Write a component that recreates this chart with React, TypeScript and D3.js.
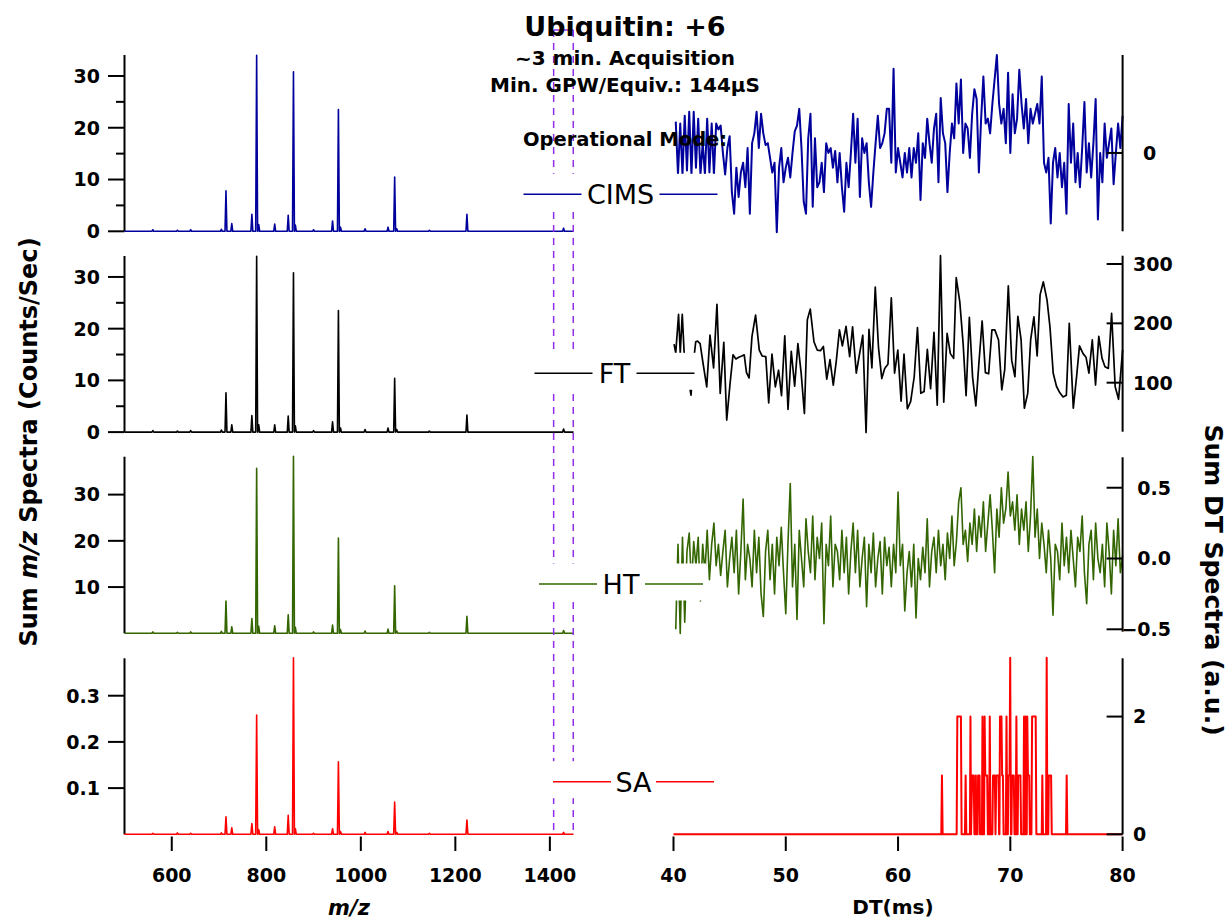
import React from "react";
import * as d3 from "d3";

// ---------- m/z spectra (peak list, intensities per mode) ----------
const peakMz = [560, 612, 640, 705, 714.7, 727.0, 769.5, 779.6, 784, 817.8, 846.4, 857.5, 861.5, 900, 940.2, 952.6, 957, 1009, 1057.6, 1071.6, 1076, 1145, 1224.5, 1429];
const cimsMs = [0.3, 0.2, 0.3, 0.4, 7.8, 1.5, 3.3, 34.0, 1.3, 1.4, 3.1, 30.8, 1.2, 0.3, 2.0, 23.5, 0.8, 0.5, 0.8, 10.5, 0.5, 0.2, 3.3, 0.6];
const ftMs = [0.3, 0.2, 0.3, 0.4, 7.6, 1.4, 3.2, 34.0, 1.4, 1.4, 3.1, 30.8, 1.2, 0.3, 2.0, 23.5, 0.8, 0.5, 0.8, 10.4, 0.5, 0.2, 3.3, 0.6];
const htMs = [0.3, 0.2, 0.3, 0.4, 7.0, 1.4, 3.2, 35.7, 1.5, 1.6, 4.0, 38.3, 1.3, 0.3, 1.8, 20.6, 0.8, 0.5, 0.9, 10.3, 0.5, 0.2, 3.7, 0.6];
const saMs = [0.002, 0.003, 0.002, 0.003, 0.038, 0.014, 0.023, 0.258, 0.01, 0.016, 0.041, 0.382, 0.012, 0.002, 0.012, 0.157, 0.006, 0.004, 0.006, 0.07, 0.004, 0.002, 0.031, 0.004];
const mzTicks = [600, 800, 1000, 1200, 1400];
const windowMz = [1408, 1449.5];

// ---------- DT spectra ----------
const dtStart = 40.2;
const dtStep = 0.2;
const cimsDt = [
  0.32, -0.22, 0.30, -0.22, 0.38,
  -0.18, 0.42, -0.22, 0.42, -0.15,
  0.35, -0.22, 0.10, -0.22, 0.35,
  -0.20, 0.30, -0.22, 0.30, 0.24,
  0.28, 0.00, -0.22, 0.05, 0.17,
  -0.40, -0.62, -0.15, -0.45, -0.20,
  -0.10, -0.35, 0.05, -0.62, 0.10,
  0.20, 0.42, 0.05, 0.40, 0.20,
  0.08, 0.10, -0.05, -0.20, -0.10,
  -0.81, -0.15, 0.05, -0.30, -0.15,
  -0.05, -0.25, 0.00, 0.22, 0.28,
  0.45, 0.05, -0.50, -0.62, 0.15,
  0.40, -0.55, 0.15, -0.35, -0.30,
  -0.10, -0.40, 0.10, 0.00, 0.05,
  -0.15, 0.02, -0.30, 0.00, -0.35,
  -0.60, -0.10, -0.35, 0.00, 0.40,
  -0.10, 0.35, -0.45, 0.15, 0.00,
  0.10, -0.30, -0.55, -0.20, 0.10,
  0.38, 0.05, 0.10, 0.20, 0.45,
  0.45, -0.10, 0.86, -0.20, 0.05,
  -0.10, -0.25, 0.00, -0.20, 0.05,
  -0.25, 0.05, -0.10, 0.20, -0.48,
  0.10, -0.05, 0.35, 0.10, -0.10,
  0.25, 0.40, -0.30, 0.56, 0.20,
  0.10, -0.40, 0.00, 0.30, 0.15,
  0.71, 0.30, 0.75, 0.00, 0.30,
  0.25, -0.05, 0.40, 0.65, 0.55,
  -0.20, 0.35, 0.78, 0.30, 0.35,
  0.20, 0.50, 0.75, 1.00, 0.50,
  0.30, 0.45, 0.10, 0.82, 0.00,
  0.60, 0.20, 0.35, 0.85, 0.50,
  0.25, 0.55, 0.10, 0.45, 0.30,
  0.40, 0.50, 0.30, 0.78, -0.10,
  -0.20, -0.05, -0.72, -0.10, 0.05,
  -0.25, 0.00, -0.35, -0.10, -0.62,
  0.50, -0.10, 0.30, -0.30, 0.00,
  -0.35, 0.05, 0.52, -0.20, 0.10,
  -0.25, 0.10, 0.55, -0.68, 0.00,
  -0.30, 0.30, -0.05, 0.10, 0.25,
  -0.32, 0.00, 0.30, 0.05, 0.38,
];
const htDt = [
  -0.50, 0.10, -0.53, 0.15, -0.45,
  0.05, 0.18, -0.20, 0.12, -0.05,
  0.15, -0.30, 0.10, -0.10, 0.20,
  -0.15, 0.10, 0.25, -0.05, 0.10,
  -0.12, 0.05, 0.20, -0.20, 0.00,
  0.15, -0.10, 0.20, -0.25, 0.05,
  0.42, -0.15, 0.10, 0.00, -0.20,
  0.20, -0.10, 0.15, -0.25, -0.41,
  0.05, 0.20, -0.15, 0.10, -0.25,
  0.15, -0.05, 0.22, -0.10, -0.39,
  0.12, 0.53, -0.20, 0.10, -0.43,
  0.20, 0.00, -0.20, 0.28, 0.05,
  -0.10, 0.30, -0.15, 0.15, 0.00,
  0.25, -0.46, 0.10, -0.05, 0.30,
  -0.20, 0.10, 0.05, -0.15, 0.20,
  -0.10, 0.15, -0.25, 0.05, 0.25,
  -0.10, 0.20, -0.20, 0.00, 0.15,
  -0.34, 0.10, -0.10, 0.18, -0.20,
  0.00, 0.12, -0.25, 0.15, -0.05,
  0.08, -0.20, 0.10, -0.10, 0.47,
  -0.05, 0.10, -0.37, -0.10, 0.05,
  -0.20, 0.10, -0.42, 0.00, -0.15,
  0.08, -0.10, 0.28, -0.20, 0.05,
  0.15, -0.10, 0.20, -0.05, 0.10,
  -0.15, 0.18, 0.00, 0.30, -0.05,
  0.12, 0.40, 0.50, 0.10, 0.20,
  -0.02, 0.25, 0.10, 0.35, 0.05,
  0.30, 0.15, 0.40, 0.05, 0.25,
  0.45, 0.20, -0.10, 0.35, 0.15,
  0.50, 0.25, 0.35, 0.61, 0.30,
  0.40, 0.20, 0.45, 0.10, 0.35,
  0.20, 0.40, 0.05, 0.30, 0.72,
  0.15, 0.35, 0.00, 0.25, 0.10,
  -0.10, 0.20, 0.00, -0.40, 0.10,
  0.05, -0.15, 0.25, -0.05, 0.15,
  -0.10, 0.20, 0.00, -0.20, 0.15,
  0.05, 0.30, -0.10, -0.32, 0.10,
  0.20, -0.15, 0.25, 0.00, -0.10,
  0.10, -0.20, 0.25, 0.05, -0.25,
  0.20, -0.05, 0.28, -0.10, 0.02,
];
const ftDtTime = [40.05, 40.2, 40.45, 40.6, 40.78, 40.95, 41.2, 41.56, 41.75, 41.98, 42.14, 42.37, 42.63, 42.96, 43.25, 43.57, 43.87, 44.16, 44.48, 44.74, 45.04, 45.3, 45.56, 45.82, 46.08, 46.3, 46.5, 46.73, 46.99, 47.31, 47.64, 47.89, 48.22, 48.48, 48.77, 49.07, 49.36, 49.62, 49.91, 50.2, 50.49, 50.79, 51.08, 51.37, 51.66, 51.92, 52.18, 52.51, 52.8, 53.09, 53.35, 53.65, 53.94, 54.23, 54.49, 54.78, 55.04, 55.37, 55.69, 55.95, 56.28, 56.54, 56.86, 57.15, 57.41, 57.67, 57.97, 58.26, 58.55, 58.81, 59.1, 59.4, 59.69, 59.98, 60.27, 60.53, 60.83, 61.12, 61.44, 61.73, 62.03, 62.32, 62.61, 62.9, 63.2, 63.49, 63.78, 64.07, 64.37, 64.66, 64.95, 65.18, 65.5, 65.8, 66.06, 66.35, 66.64, 66.93, 67.19, 67.49, 67.78, 68.07, 68.36, 68.62, 68.95, 69.24, 69.5, 69.82, 70.12, 70.41, 70.67, 70.96, 71.25, 71.55, 71.81, 72.1, 72.39, 72.65, 72.94, 73.27, 73.53, 73.82, 74.11, 74.41, 74.7, 74.99, 75.25, 75.61, 75.9, 76.16, 76.48, 76.74, 77.0, 77.3, 77.59, 77.88, 78.17, 78.43, 78.73, 79.02, 79.34, 79.64, 80.0];
const ftDtVal = [165, 150, 215, 150, 215, 150, 120, 79, 130, 169, 170, 166, 133, 93, 180, 125, 232, 82, 168, 37, 99, 147, 140, 143, 145, 147, 117, 108, 178, 214, 155, 145, 144, 66, 148, 93, 121, 78, 179, 55, 153, 94, 166, 116, 48, 206, 224, 169, 155, 154, 161, 106, 139, 96, 135, 189, 162, 195, 144, 194, 116, 145, 180, 16, 190, 125, 261, 159, 107, 124, 131, 243, 116, 155, 69, 148, 56, 68, 110, 193, 82, 85, 156, 90, 185, 62, 314, 67, 183, 149, 141, 277, 236, 165, 78, 210, 109, 61, 130, 204, 117, 115, 189, 189, 172, 88, 122, 263, 138, 110, 212, 172, 57, 82, 172, 211, 145, 248, 270, 239, 194, 116, 94, 83, 76, 79, 200, 57, 110, 162, 149, 143, 116, 172, 96, 178, 141, 127, 124, 217, 93, 72, 155];
const saDtTime = [40, 63.85, 63.91, 63.97, 65.22, 65.28, 65.6, 65.66, 65.96, 66.02, 66.08, 66.4, 66.45, 66.5, 66.6, 66.74, 66.8, 66.88, 66.93, 66.98, 67.08, 67.13, 67.26, 67.3, 67.47, 67.52, 67.58, 67.66, 67.71, 67.77, 67.94, 68.0, 68.12, 68.17, 68.23, 68.4, 68.46, 68.62, 68.68, 68.75, 68.95, 69.0, 69.03, 69.08, 69.21, 69.27, 69.34, 69.4, 69.6, 69.66, 69.72, 69.78, 69.83, 69.93, 69.99, 70.05, 70.1, 70.15, 70.31, 70.37, 70.48, 70.54, 70.6, 70.65, 70.7, 70.9, 70.96, 71.16, 71.22, 71.29, 71.35, 71.41, 71.46, 71.51, 71.57, 71.68, 71.74, 71.88, 71.94, 72.26, 72.32, 72.8, 72.85, 72.91, 73.18, 73.24, 73.3, 73.38, 73.43, 73.63, 73.69, 74.96, 75.02, 75.08, 80];
const saDtVal = [0, 0, 1, 0, 0, 2, 2, 0, 0, 1, 0, 0, 2, 0, 1, 1, 0, 0, 1, 0, 0, 1, 1, 0, 0, 2, 0, 0, 2, 1, 1, 0, 0, 2, 0, 0, 1, 1, 0, 1, 1, 0, 0, 2, 2, 1, 1, 0, 0, 2, 0, 0, 1, 1, 3, 0, 0, 1, 1, 0, 0, 2, 0, 0, 1, 1, 0, 0, 2, 0, 2, 0, 0, 2, 1, 1, 0, 0, 2, 2, 0, 0, 1, 0, 0, 3, 0, 0, 1, 1, 0, 0, 1, 0, 0];
const dtTicks = [40, 50, 60, 70, 80];

const modeLabels = ["CIMS", "FT", "HT", "SA"];
const modeColors = ["#00009c", "#000000", "#336600", "#ff0000"];

const FONT = "DejaVu Sans";

export default function App() {
  const xMz = d3.scaleLinear().domain([500, 1450]).range([124.5, 573.5]);
  const xDt = d3.scaleLinear().domain([40, 80]).range([673.5, 1122.6]);

  const msPanels = [
    { data: cimsMs, y: d3.scaleLinear().domain([0, 34.05]).range([231.3, 55]), ticks: [0, 10, 20, 30], minor: [5, 15, 25], fmt: d3.format("d") },
    { data: ftMs, y: d3.scaleLinear().domain([0, 34.05]).range([432.1, 256]), ticks: [0, 10, 20, 30], minor: [5, 15, 25], fmt: d3.format("d") },
    { data: htMs, y: d3.scaleLinear().domain([0, 38.2]).range([633.3, 456.7]), ticks: [10, 20, 30], minor: [], fmt: d3.format("d") },
    { data: saMs, y: d3.scaleLinear().domain([0, 0.381]).range([834.3, 658.3]), ticks: [0.1, 0.2, 0.3], minor: [], fmt: d3.format(".1f") },
  ];

  const dtGrid = (vals: number[]) => vals.map((v, i) => [dtStart + i * dtStep, v] as [number, number]);
  const dtPanels = [
    { pts: dtGrid(cimsDt), y: d3.scaleLinear().domain([-0.8, 1.0]).range([231.3, 55]), ticks: [0], fmt: d3.format("d"), lx: 1143, anchor: "start", sw: 2 },
    { pts: ftDtTime.map((t, i) => [t, ftDtVal[i]] as [number, number]), y: d3.scaleLinear().domain([17.4, 314]).range([431.7, 255.7]), ticks: [100, 200, 300], fmt: d3.format("d"), lx: 1133, anchor: "start", sw: 1.7 },
    { pts: dtGrid(htDt), y: d3.scaleLinear().domain([-0.517, 0.715]).range([631.7, 457.3]), ticks: [-0.5, 0, 0.5], fmt: d3.format(".1f"), lx: 1171, anchor: "end", sw: 1.6 },
    { pts: saDtTime.map((t, i) => [t, saDtVal[i]] as [number, number]), y: d3.scaleLinear().domain([0, 2.99]).range([834.3, 658.3]), ticks: [0, 2], fmt: d3.format("d"), lx: 1133, anchor: "start", sw: 2 },
  ];

  const legends = [
    { cx: 620.5, y: 194.3, tw: 68 },
    { cx: 614.5, y: 373.3, tw: 34 },
    { cx: 621, y: 584, tw: 38 },
    { cx: 633.5, y: 781.7, tw: 35 },
  ];

  const msPath = (ints: number[], y: d3.ScaleLinear<number, number>) => {
    const pts: [number, number][] = [[500, 0]];
    peakMz.forEach((mz, i) => {
      pts.push([mz - 2, 0], [mz, ints[i]], [mz + 2, 0]);
    });
    pts.push([1450, 0]);
    return d3.line<[number, number]>().x((d) => xMz(d[0])).y((d) => y(d[1]))(pts) || "";
  };

  const dtPath = (pts: [number, number][], y: d3.ScaleLinear<number, number>) =>
    d3.line<[number, number]>().x((d) => xDt(d[0])).y((d) => y(d[1]))(pts) || "";

  const tickFont = { fontFamily: FONT, fontWeight: "bold" as const, fontSize: 19 };
  const purple = "#8f2de8";
  const axisRightX = xDt(80);

  return (
    <svg width={1232} height={922} style={{ position: "absolute", left: 0, top: 0, background: "#fff" }}>
      <rect x={0} y={0} width={1232} height={922} fill="#fff" />

      {/* m/z spectra */}
      {msPanels.map((p, i) => {
        const [y0, y1] = p.y.range();
        return (
          <g key={"ms" + i}>
            <line x1={124.5} x2={124.5} y1={y1} y2={y0} stroke="#000" strokeWidth={2} />
            {p.ticks.map((t) => (
              <g key={t}>
                <line x1={108} x2={124.5} y1={p.y(t)} y2={p.y(t)} stroke="#000" strokeWidth={2} />
                <text x={100} y={p.y(t)} dy="0.36em" textAnchor="end" {...tickFont}>{p.fmt(t)}</text>
              </g>
            ))}
            {p.minor.map((t) => (
              <line key={"m" + t} x1={116} x2={124.5} y1={p.y(t)} y2={p.y(t)} stroke="#000" strokeWidth={2} />
            ))}
            <path d={msPath(p.data, p.y)} fill="none" stroke={modeColors[i]} strokeWidth={1.6} strokeLinejoin="round" />
          </g>
        );
      })}

      {/* m/z x-axis */}
      {mzTicks.map((t) => (
        <g key={"mzt" + t}>
          <line x1={xMz(t)} x2={xMz(t)} y1={836.5} y2={851} stroke="#000" strokeWidth={2} />
          <text x={xMz(t)} y={882} textAnchor="middle" {...tickFont}>{t}</text>
        </g>
      ))}
      <text x={349} y={915} textAnchor="middle" fontFamily={FONT} fontWeight="bold" fontStyle="italic" fontSize={21}>m/z</text>

      {/* dashed m/z window */}
      <line x1={xMz(windowMz[0])} x2={xMz(windowMz[1])} y1={30} y2={30} stroke={purple} strokeWidth={1.5} />
      {windowMz.map((m) => (
        <line key={"w" + m} x1={xMz(m)} x2={xMz(m)} y1={30} y2={834} stroke={purple} strokeWidth={1.5} strokeDasharray="7,6" />
      ))}

      {/* DT spectra */}
      {dtPanels.map((p, i) => {
        const [y0, y1] = p.y.range();
        return (
          <g key={"dt" + i}>
            <path d={dtPath(p.pts, p.y)} fill="none" stroke={modeColors[i]} strokeWidth={p.sw} strokeLinejoin="round" />
            <line x1={axisRightX} x2={axisRightX} y1={y1} y2={y0} stroke="#000" strokeWidth={2} />
            {p.ticks.map((t) => (
              <g key={t}>
                <line x1={axisRightX - 16} x2={axisRightX} y1={p.y(t)} y2={p.y(t)} stroke="#000" strokeWidth={2} />
                <text x={p.lx} y={p.y(t)} dy="0.36em" textAnchor={p.anchor as any} {...tickFont}>{p.fmt(t)}</text>
              </g>
            ))}
          </g>
        );
      })}
      {dtTicks.map((t) => (
        <g key={"dtt" + t}>
          <line x1={xDt(t)} x2={xDt(t)} y1={836.5} y2={851} stroke="#000" strokeWidth={2} />
          <text x={xDt(t)} y={882} textAnchor="middle" {...tickFont}>{t}</text>
        </g>
      ))}
      <text x={893} y={914} textAnchor="middle" fontFamily={FONT} fontWeight="bold" fontSize={20}>DT(ms)</text>

      {/* legend */}
      {legends.map((l, i) => {
        const lEnd = l.cx - l.tw / 2 - 5;
        const rStart = l.cx + l.tw / 2 + 5;
        return (
          <g key={"lg" + i}>
            <rect x={lEnd - 60} y={l.y - 20.5} width={rStart + 61 - (lEnd - 60)} height={37} fill="#fff" />
            <line x1={lEnd - 58} x2={lEnd} y1={l.y} y2={l.y} stroke={modeColors[i]} strokeWidth={1.6} />
            <line x1={rStart} x2={rStart + 58} y1={l.y} y2={l.y} stroke={modeColors[i]} strokeWidth={1.6} />
            <text x={l.cx} y={l.y + 10} textAnchor="middle" fontFamily={FONT} fontSize={27} fill="#000">{modeLabels[i]}</text>
          </g>
        );
      })}

      {/* titles */}
      <text x={625} y={36} textAnchor="middle" fontFamily={FONT} fontWeight="bold" fontSize={27}>Ubiquitin: +6</text>
      <text x={625} y={65} textAnchor="middle" fontFamily={FONT} fontWeight="bold" fontSize={20}>~3 min. Acquisition</text>
      <text x={625} y={92} textAnchor="middle" fontFamily={FONT} fontWeight="bold" fontSize={20}>Min. GPW/Equiv.: 144{"\u00b5"}S</text>
      <text x={625} y={145.5} textAnchor="middle" fontFamily={FONT} fontWeight="bold" fontSize={19.5}>Operational Mode:</text>

      {/* axis titles */}
      <text transform="translate(37,442) rotate(-90)" textAnchor="middle" fontFamily={FONT} fontWeight="bold" fontSize={24}>
        Sum <tspan fontStyle="italic">m/z</tspan> Spectra (Counts/Sec)
      </text>
      <text transform="translate(1205,580) rotate(90)" textAnchor="middle" fontFamily={FONT} fontWeight="bold" fontSize={25}>
        Sum DT Spectra (a.u.)
      </text>
    </svg>
  );
}
